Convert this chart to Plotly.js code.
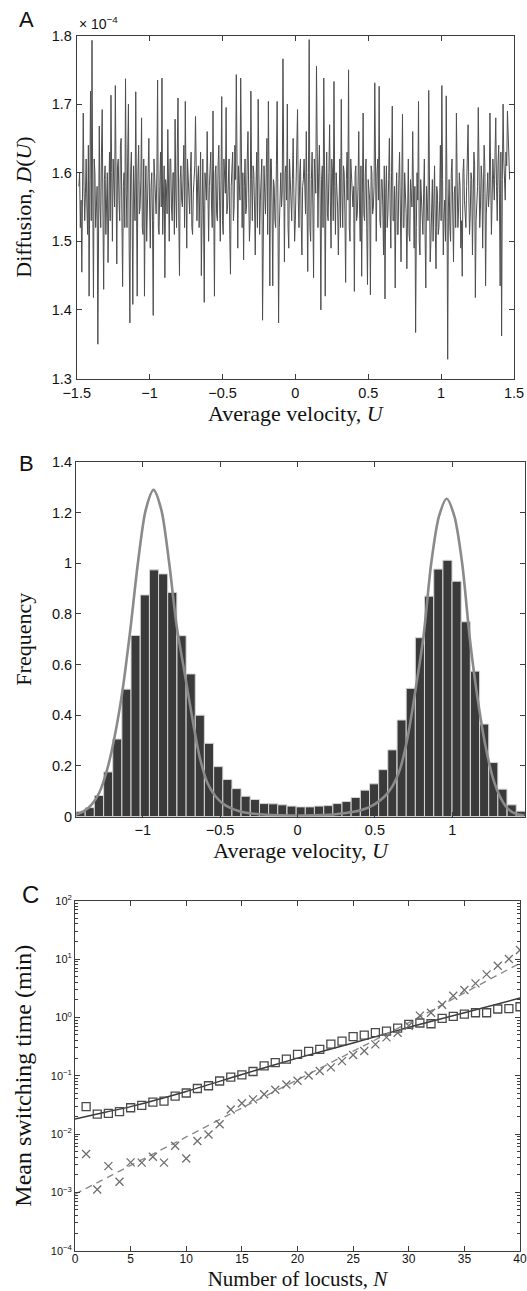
<!DOCTYPE html>
<html>
<head>
<meta charset="utf-8">
<script src="https://cdn.plot.ly/plotly-3.0.1.min.js"></script>
<style>html,body{margin:0;padding:0;background:#fff;}#chart{width:527px;height:1291px;}</style>
</head>
<body>
<div id="chart"></div>
<script>
// ---------- Panel A: diffusion D(U) (units of 1e-4), sampled on a regular U grid ----------
const uStart = -1.485, uStep = 0.01;
// samples at uStart + i*uStep
const diffusion = [
1.58,1.52,1.455,1.687,1.53,1.62,1.51,1.42,1.719,1.793,
1.418,1.60,1.55,1.35,1.668,1.52,1.692,1.43,1.61,1.54,
1.469,1.63,1.713,1.50,1.58,1.727,1.467,1.62,1.53,1.65,
1.434,1.60,1.737,1.52,1.70,1.381,1.63,1.408,1.57,1.718,
1.42,1.64,1.55,1.68,1.51,1.42,1.61,1.56,1.65,1.49,
1.60,1.392,1.59,1.54,1.735,1.51,1.63,1.738,1.55,1.447,
1.58,1.663,1.50,1.62,1.53,1.60,1.678,1.52,1.709,1.45,
1.61,1.55,1.64,1.704,1.49,1.58,1.54,1.63,1.51,1.59,
1.682,1.53,1.61,1.56,1.45,1.62,1.411,1.58,1.66,1.50,
1.60,1.55,1.69,1.42,1.61,1.53,1.64,1.50,1.711,1.51,
1.59,1.695,1.55,1.62,1.452,1.60,1.53,1.64,1.743,1.49,
1.57,1.738,1.52,1.473,1.62,1.55,1.66,1.50,1.719,1.53,
1.60,1.48,1.63,1.707,1.51,1.59,1.385,1.61,1.54,1.65,
1.704,1.435,1.62,1.435,1.58,1.52,1.704,1.381,1.60,1.55,
1.766,1.47,1.61,1.70,1.49,1.58,1.53,1.65,1.50,1.60,
1.692,1.52,1.62,1.48,1.59,1.55,1.66,1.456,1.794,1.50,
1.63,1.447,1.60,1.755,1.52,1.64,1.40,1.61,1.738,1.42,
1.63,1.53,1.67,1.49,1.60,1.733,1.51,1.58,1.48,1.62,
1.707,1.52,1.60,1.44,1.63,1.75,1.50,1.59,1.55,1.427,
1.61,1.54,1.66,1.50,1.449,1.687,1.53,1.62,1.437,1.58,
1.422,1.60,1.55,1.731,1.50,1.62,1.726,1.52,1.59,1.48,
1.416,1.61,1.54,1.65,1.49,1.697,1.53,1.432,1.60,1.51,
1.63,1.47,1.685,1.52,1.58,1.46,1.62,1.50,1.57,1.66,
1.49,1.367,1.60,1.704,1.48,1.56,1.51,1.62,1.432,1.55,
1.72,1.47,1.58,1.50,1.61,1.46,1.57,1.52,1.64,1.727,
1.48,1.56,1.712,1.328,1.59,1.50,1.62,1.47,1.58,1.687,
1.52,1.60,1.49,1.449,1.62,1.54,1.58,1.67,1.51,1.60,
1.48,1.63,1.418,1.57,1.695,1.52,1.61,1.49,1.64,1.435,
1.58,1.55,1.687,1.51,1.62,1.56,1.68,1.53,1.64,1.435,
1.362,1.70,1.58,1.63,1.69,1.60
];
// samples half a step later (uStart + i*uStep + uStep/2)
const diffusionMid = [
1.60,1.56,1.61,1.58,1.57,1.55,1.64,1.59,1.53,1.57,
1.62,1.52,1.58,1.60,1.55,1.63,1.54,1.59,1.51,1.60,
1.57,1.53,1.60,1.62,1.55,1.50,1.61,1.56,1.64,1.54,
1.58,1.52,1.57,1.63,1.49,1.60,1.55,1.61,1.53,1.56,
1.60,1.54,1.59,1.52,1.62,1.57,1.50,1.61,1.55,1.58,
1.53,1.62,1.56,1.60,1.52,1.58,1.55,1.51,1.61,1.59,
1.54,1.57,1.62,1.55,1.60,1.51,1.57,1.63,1.54,1.59,
1.56,1.60,1.52,1.58,1.62,1.55,1.60,1.52,1.57,1.61,
1.55,1.59,1.52,1.63,1.57,1.54,1.60,1.56,1.51,1.58,
1.63,1.52,1.57,1.60,1.54,1.61,1.56,1.59,1.53,1.62,
1.57,1.54,1.60,1.51,1.58,1.63,1.55,1.59,1.54,1.61,
1.56,1.52,1.60,1.58,1.54,1.62,1.57,1.53,1.59,1.61,
1.55,1.58,1.52,1.60,1.56,1.62,1.54,1.57,1.60,1.51,
1.58,1.62,1.55,1.59,1.53,1.61,1.56,1.52,1.60,1.57,
1.54,1.60,1.56,1.52,1.62,1.55,1.59,1.57,1.53,1.61,
1.56,1.60,1.53,1.58,1.62,1.54,1.57,1.60,1.52,1.59,
1.55,1.62,1.57,1.53,1.60,1.56,1.59,1.52,1.61,1.57,
1.54,1.60,1.56,1.62,1.53,1.58,1.60,1.55,1.59,1.52,
1.57,1.61,1.54,1.59,1.56,1.52,1.62,1.55,1.58,1.60,
1.53,1.58,1.55,1.61,1.57,1.54,1.60,1.52,1.59,1.56,
1.61,1.54,1.58,1.52,1.60,1.56,1.53,1.59,1.55,1.61,
1.57,1.52,1.59,1.55,1.60,1.53,1.58,1.56,1.51,1.59,
1.55,1.58,1.52,1.60,1.54,1.57,1.51,1.59,1.55,1.53,
1.58,1.52,1.56,1.50,1.59,1.54,1.57,1.51,1.58,1.53,
1.56,1.50,1.59,1.54,1.52,1.58,1.51,1.56,1.53,1.59,
1.54,1.50,1.58,1.55,1.52,1.60,1.54,1.57,1.52,1.59,
1.55,1.58,1.53,1.60,1.56,1.52,1.61,1.57,1.54,1.59,
1.56,1.61,1.53,1.58,1.62,1.55,1.59,1.57,1.61,1.54,
1.60,1.57,1.62,1.56,1.59,1.63,1.58,1.61,1.57,1.63,
1.59,1.62,1.56,1.61,1.64,1.59
];
const velocity = [], diffusionAll = [];
diffusion.forEach((v, i) => {
  velocity.push(+(uStart + uStep * i).toFixed(4));
  diffusionAll.push(v);
  velocity.push(+(uStart + uStep * i + uStep / 2).toFixed(4));
  diffusionAll.push(diffusionMid[i]);
});

// ---------- Panel B: histogram of U and theoretical density ----------
const binCenters = [-1.401,-1.342,-1.283,-1.223,-1.164,-1.105,-1.046,-0.986,-0.927,-0.868,
  -0.809,-0.749,-0.690,-0.631,-0.572,-0.512,-0.453,-0.394,-0.335,-0.275,
  -0.216,-0.157,-0.098,-0.038,0.021,0.080,0.139,0.199,0.258,0.317,
  0.376,0.436,0.495,0.554,0.613,0.673,0.732,0.791,0.850,0.910,
  0.969,1.028,1.087,1.147,1.206,1.265,1.324,1.384,1.443];
const frequency = [0.020,0.035,0.083,0.176,0.306,0.503,0.715,0.875,0.974,0.958,
  0.885,0.714,0.563,0.400,0.289,0.197,0.146,0.110,0.080,0.067,
  0.051,0.050,0.046,0.041,0.038,0.038,0.041,0.043,0.051,0.059,
  0.075,0.104,0.129,0.185,0.263,0.381,0.506,0.706,0.870,0.977,
  1.012,0.929,0.769,0.574,0.365,0.213,0.108,0.046,0.021];
const curveU = [-1.43,-1.38,-1.33,-1.28,-1.23,-1.18,-1.13,-1.08,-1.03,-0.98,
  -0.93,-0.88,-0.83,-0.78,-0.73,-0.68,-0.63,-0.58,-0.53,-0.48,
  -0.43,-0.38,-0.33,-0.28,-0.2,-0.1,0,0.1,0.2,0.25,
  0.3,0.364,0.414,0.464,0.514,0.564,0.614,0.664,0.714,0.764,
  0.814,0.864,0.914,0.964,1.014,1.064,1.114,1.164,1.214,1.264,
  1.314,1.364,1.414,1.464];
const curveF = [0.008,0.021,0.047,0.095,0.185,0.32,0.50,0.738,1.006,1.212,
  1.29,1.212,1.006,0.75,0.57,0.39,0.23,0.13,0.08,0.05,
  0.033,0.022,0.015,0.011,0.007,0.005,0.004,0.005,0.007,0.009,
  0.013,0.019,0.026,0.037,0.055,0.08,0.12,0.19,0.32,0.506,
  0.71,1.0,1.185,1.255,1.185,1.0,0.70,0.465,0.28,0.15,
  0.072,0.028,0.01,0.004];

// ---------- Panel C: mean switching time vs number of locusts ----------
const locusts = [1,2,3,4,5,6,7,8,9,10,11,12,13,14,15,16,17,18,19,20,
  21,22,23,24,25,26,27,28,29,30,31,32,33,34,35,36,37,38,39,40];
const timeSquares = [0.0294,0.0220,0.0226,0.0242,0.0282,0.0309,0.0351,0.0367,0.0445,0.0505,
  0.0603,0.0673,0.0811,0.0948,0.103,0.118,0.147,0.168,0.193,0.232,
  0.261,0.282,0.349,0.393,0.467,0.498,0.546,0.583,0.656,0.759,
  0.800,0.778,0.962,1.04,1.14,1.20,1.20,1.39,1.41,1.52];
const timeCrosses = [0.00454,0.00112,0.00282,0.00152,0.00327,0.00323,0.00408,0.00323,0.00631,0.00380,
  0.00759,0.00982,0.0147,0.0263,0.0336,0.0393,0.0482,0.0575,0.0705,0.0820,
  0.101,0.120,0.139,0.178,0.226,0.265,0.344,0.454,0.546,0.719,
  1.07,1.20,1.65,2.35,2.94,3.83,5.46,7.69,10.0,14.3];
const fitSolidN = [0,2,5,10,15,20,25,30,35,40];
const fitSolidT = [0.0181,0.0220,0.0295,0.0537,0.105,0.200,0.363,0.676,1.20,2.14];
const fitDashN = [0,5,10,15,20,25,30,35,40];
const fitDashT = [0.00093,0.0029,0.0089,0.028,0.085,0.263,0.81,2.63,8.5];

const logTickVals = [1e-4,1e-3,1e-2,1e-1,1,10,100];
const logTickText = ['10<sup>−4</sup>','10<sup>−3</sup>','10<sup>−2</sup>','10<sup>−1</sup>','10<sup>0</sup>','10<sup>1</sup>','10<sup>2</sup>'];

// ---------- layout helpers ----------
const W = 527, H = 1291;
const fx = p => p / W;
const fy = p => 1 - p / H;
const minorLog = [];
for (let p = -4; p < 2; p++) for (let k = 2; k <= 9; k++) minorLog.push(k * Math.pow(10, p));

const sans = 'Liberation Sans, Arial, Helvetica, sans-serif';
const serif = 'Liberation Serif, Times New Roman, serif';
const axCol = '#3c3c3c';
function ax(extra) {
  return Object.assign({
    showline: true, linecolor: axCol, linewidth: 1, mirror: 'allticks',
    ticks: 'inside', ticklen: 5, tickwidth: 1, tickcolor: axCol,
    showgrid: false, zeroline: false,
    tickfont: {family: sans, size: 14.5, color: '#111'}
  }, extra);
}
const titleFont = {family: serif, size: 22, color: '#111'};

const traces = [
  {x: velocity, y: diffusionAll, xaxis: 'x', yaxis: 'y', type: 'scatter', mode: 'lines',
   line: {color: '#4e4e4e', width: 1}, hoverinfo: 'skip'},
  {x: binCenters, y: frequency, xaxis: 'x2', yaxis: 'y2', type: 'bar',
   marker: {color: '#3a3a3a', line: {color: '#d4d4d4', width: 1}}},
  {x: curveU, y: curveF, xaxis: 'x2', yaxis: 'y2', type: 'scatter', mode: 'lines',
   line: {color: '#8a8a8a', width: 2.6, shape: 'spline', smoothing: 0.8}},
  {x: fitSolidN, y: fitSolidT, xaxis: 'x3', yaxis: 'y3', type: 'scatter', mode: 'lines',
   line: {color: '#3a3a3a', width: 1.5, shape: 'spline', smoothing: 0.6}},
  {x: fitDashN, y: fitDashT, xaxis: 'x3', yaxis: 'y3', type: 'scatter', mode: 'lines',
   line: {color: '#8a8a8a', width: 1.4, dash: '7px,5px', shape: 'spline', smoothing: 0.6}},
  {x: locusts, y: timeSquares, xaxis: 'x3', yaxis: 'y3', type: 'scatter', mode: 'markers',
   marker: {symbol: 'square-open', size: 8, color: '#4a4a4a', line: {width: 1.3}}},
  {x: locusts, y: timeCrosses, xaxis: 'x3', yaxis: 'y3', type: 'scatter', mode: 'markers',
   marker: {symbol: 'x-thin-open', size: 8, color: '#6e6e6e', line: {width: 1.3}}}
];

const layout = {
  width: W, height: H,
  margin: {l: 0, r: 0, t: 0, b: 0},
  paper_bgcolor: '#fff', plot_bgcolor: '#fff',
  showlegend: false, bargap: 0,
  font: {family: sans, color: '#111'},
  xaxis: ax({domain: [fx(76.7), fx(514)], range: [-1.5, 1.5], dtick: 0.5, tick0: 0, anchor: 'y',
    ticklabelstandoff: 1,
    title: {text: 'Average velocity, <i>U</i>', font: titleFont, standoff: 4}}),
  yaxis: ax({domain: [fy(378.5), fy(35.5)], range: [1.3, 1.8], dtick: 0.1, tick0: 1.3, anchor: 'x',
    tickformat: '.1f', ticklabelstandoff: 1,
    title: {text: 'Diffusion, <i>D</i>(<i>U</i>)', font: titleFont, standoff: 13}}),
  xaxis2: ax({domain: [fx(76), fx(525)], range: [-1.431, 1.47], dtick: 0.5, tick0: 0, anchor: 'y2',
    title: {text: 'Average velocity, <i>U</i>', font: titleFont, standoff: 4}}),
  yaxis2: ax({domain: [fy(816.5), fy(462)], range: [0, 1.4], dtick: 0.2, tick0: 0, anchor: 'x2',
    title: {text: 'Frequency', font: titleFont, standoff: 14}}),
  xaxis3: ax({domain: [fx(75), fx(520)], range: [0, 40], dtick: 5, tick0: 0, anchor: 'y3',
    tickfont: {family: sans, size: 12, color: '#111'}, ticklabelstandoff: -3,
    title: {text: 'Number of locusts, <i>N</i>', font: Object.assign({}, titleFont, {size: 21}), standoff: 6}}),
  yaxis3: ax({domain: [fy(1250.7), fy(900.7)], type: 'log', range: [-4, 2], anchor: 'x3',
    tickmode: 'array', tickvals: logTickVals, ticktext: logTickText,
    tickfont: {family: sans, size: 11, color: '#111'},
    minor: {tickmode: 'array', tickvals: minorLog, ticks: 'inside', ticklen: 3, tickcolor: axCol, showgrid: false},
    title: {text: 'Mean switching time (min)', font: Object.assign({}, titleFont, {size: 24}), standoff: 12}}),
  annotations: [
    {text: 'A', xref: 'paper', yref: 'paper', x: fx(17), y: fy(34), xanchor: 'left', yanchor: 'bottom',
     showarrow: false, font: {family: sans, size: 22, color: '#111'}},
    {text: 'B', xref: 'paper', yref: 'paper', x: fx(17), y: fy(478), xanchor: 'left', yanchor: 'bottom',
     showarrow: false, font: {family: sans, size: 22, color: '#111'}},
    {text: 'C', xref: 'paper', yref: 'paper', x: fx(20), y: fy(910), xanchor: 'left', yanchor: 'bottom',
     showarrow: false, font: {family: sans, size: 24, color: '#111'}},
    {text: '× 10<sup>−4</sup>', xref: 'paper', yref: 'paper', x: fx(77), y: fy(34), xanchor: 'left', yanchor: 'bottom',
     showarrow: false, font: {family: sans, size: 14, color: '#111'}}
  ]
};

Plotly.newPlot('chart', traces, layout, {staticPlot: true, displayModeBar: false});
</script>
</body>
</html>
